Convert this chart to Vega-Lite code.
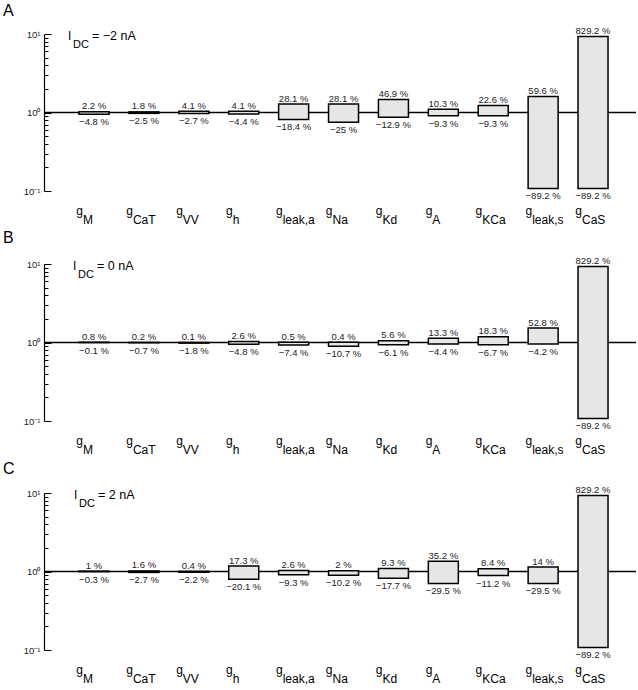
{
  "$schema": "https://vega.github.io/schema/vega-lite/v6.json",
  "background": "white",
  "padding": {"left": 3, "top": 3, "right": 0, "bottom": 0},
  "spacing": 4,
  "config": {
    "view": {"stroke": null},
    "font": "Liberation Sans",
    "title": {"font": "Liberation Sans", "fontSize": 16, "fontWeight": "normal", "color": "black", "anchor": "start", "frame": "group"},
    "axis": {"grid": false}
  },
  "datasets": {
    "g": [
      {"panel": "A", "sub": "M", "up": 2.2, "down": -4.8},
      {"panel": "A", "sub": "CaT", "up": 1.8, "down": -2.5},
      {"panel": "A", "sub": "VV", "up": 4.1, "down": -2.7},
      {"panel": "A", "sub": "h", "up": 4.1, "down": -4.4},
      {"panel": "A", "sub": "leak,a", "up": 28.1, "down": -18.4},
      {"panel": "A", "sub": "Na", "up": 28.1, "down": -25},
      {"panel": "A", "sub": "Kd", "up": 46.9, "down": -12.9},
      {"panel": "A", "sub": "A", "up": 10.3, "down": -9.3},
      {"panel": "A", "sub": "KCa", "up": 22.6, "down": -9.3},
      {"panel": "A", "sub": "leak,s", "up": 59.6, "down": -89.2},
      {"panel": "A", "sub": "CaS", "up": 829.2, "down": -89.2},
      {"panel": "B", "sub": "M", "up": 0.8, "down": -0.1},
      {"panel": "B", "sub": "CaT", "up": 0.2, "down": -0.7},
      {"panel": "B", "sub": "VV", "up": 0.1, "down": -1.8},
      {"panel": "B", "sub": "h", "up": 2.6, "down": -4.8},
      {"panel": "B", "sub": "leak,a", "up": 0.5, "down": -7.4},
      {"panel": "B", "sub": "Na", "up": 0.4, "down": -10.7},
      {"panel": "B", "sub": "Kd", "up": 5.6, "down": -6.1},
      {"panel": "B", "sub": "A", "up": 13.3, "down": -4.4},
      {"panel": "B", "sub": "KCa", "up": 18.3, "down": -6.7},
      {"panel": "B", "sub": "leak,s", "up": 52.8, "down": -4.2},
      {"panel": "B", "sub": "CaS", "up": 829.2, "down": -89.2},
      {"panel": "C", "sub": "M", "up": 1, "down": -0.3},
      {"panel": "C", "sub": "CaT", "up": 1.6, "down": -2.7},
      {"panel": "C", "sub": "VV", "up": 0.4, "down": -2.2},
      {"panel": "C", "sub": "h", "up": 17.3, "down": -20.1},
      {"panel": "C", "sub": "leak,a", "up": 2.6, "down": -9.3},
      {"panel": "C", "sub": "Na", "up": 2, "down": -10.2},
      {"panel": "C", "sub": "Kd", "up": 9.3, "down": -17.7},
      {"panel": "C", "sub": "A", "up": 35.2, "down": -29.5},
      {"panel": "C", "sub": "KCa", "up": 8.4, "down": -11.2},
      {"panel": "C", "sub": "leak,s", "up": 14, "down": -29.5},
      {"panel": "C", "sub": "CaS", "up": 829.2, "down": -89.2}
    ],
    "idc": [
      {"panel": "A", "val": "= −2 nA"},
      {"panel": "B", "val": "= 0 nA"},
      {"panel": "C", "val": "= 2 nA"}
    ]
  },
  "vconcat": [
    {
      "width": 592, "height": 157,
      "title": {"text": "A", "dx": -41, "offset": 7},
      "layer": [
        {"data": {"values": [{}]}, "mark": {"type": "rule", "color": "black", "strokeWidth": 1.3},
         "encoding": {"y": {"datum": 1, "type": "quantitative", "scale": {"type": "log", "domain": [0.1, 10]}}}},
        {"data": {"name": "g"},
         "transform": [{"filter": "datum.panel == 'A'"}, {"calculate": "1 + datum.up / 100", "as": "top"}, {"calculate": "1 + datum.down / 100", "as": "bot"}],
         "mark": {"type": "bar", "width": 30, "fill": "#e6e6e6", "stroke": "black", "strokeWidth": 1.5},
         "encoding": {
           "x": {"field": "sub", "type": "nominal", "scale": {"type": "point", "domain": ["M","CaT","VV","h","leak,a","Na","Kd","A","KCa","leak,s","CaS"], "padding": 0.932, "align": 0.538}, "axis": null},
           "y": {"field": "bot", "type": "quantitative", "scale": {"type": "log", "domain": [0.1, 10]},
                 "axis": {"title": null, "values": [0.1,0.2,0.3,0.4,0.5,0.6,0.7,0.8,0.9,1,2,3,4,5,6,7,8,9,10],
                          "labelExpr": "datum.value == 10 ? '10¹' : datum.value == 1 ? '10⁰' : datum.value == 0.1 ? '10⁻¹' : ''",
                          "tickSize": {"condition": {"test": "datum.value == 1 || datum.value == 10 || datum.value == 0.1", "value": -7}, "value": -4},
                          "labelPadding": 11, "tickColor": "black", "domainColor": "black", "domainWidth": 1.2, "tickWidth": 1,
                          "labelFontSize": 9.5, "labelColor": "#222", "labelFont": "Liberation Sans", "labelBaseline": "middle"}},
           "y2": {"field": "top"}
         }},
        {"data": {"name": "g"},
         "transform": [{"filter": "datum.panel == 'A'"}, {"calculate": "1 + datum.up / 100", "as": "top"}, {"calculate": "datum.up + ' %'", "as": "tl"}],
         "mark": {"type": "text", "fontSize": 9.5, "color": "#222", "baseline": "alphabetic", "dy": -2.5},
         "encoding": {"x": {"field": "sub", "type": "nominal"}, "y": {"field": "top", "type": "quantitative"}, "text": {"field": "tl"}}},
        {"data": {"name": "g"},
         "transform": [{"filter": "datum.panel == 'A'"}, {"calculate": "1 + datum.down / 100", "as": "bot"}, {"calculate": "'−' + abs(datum.down) + ' %'", "as": "bl"}],
         "mark": {"type": "text", "fontSize": 9.5, "color": "#222", "baseline": "top", "dy": 3},
         "encoding": {"x": {"field": "sub", "type": "nominal"}, "y": {"field": "bot", "type": "quantitative"}, "text": {"field": "bl"}}},
        {"data": {"name": "g"},
         "transform": [{"filter": "datum.panel == 'A'"}],
         "mark": {"type": "text", "fontSize": 12, "color": "black", "align": "right", "baseline": "alphabetic", "dx": -11, "dy": 24},
         "encoding": {"x": {"field": "sub", "type": "nominal"}, "y": {"datum": 0.1, "type": "quantitative"}, "text": {"value": "g"}}},
        {"data": {"name": "g"},
         "transform": [{"filter": "datum.panel == 'A'"}],
         "mark": {"type": "text", "fontSize": 12, "color": "black", "align": "left", "baseline": "alphabetic", "dx": -11, "dy": 33},
         "encoding": {"x": {"field": "sub", "type": "nominal"}, "y": {"datum": 0.1, "type": "quantitative"}, "text": {"field": "sub"}}},
        {"data": {"name": "idc"},
         "transform": [{"filter": "datum.panel == 'A'"}],
         "mark": {"type": "text", "fontSize": 12, "color": "black", "align": "left", "baseline": "alphabetic", "dx": -26, "dy": 6},
         "encoding": {"x": {"datum": "M"}, "y": {"datum": 10, "type": "quantitative"}, "text": {"value": "I"}}},
        {"data": {"name": "idc"},
         "transform": [{"filter": "datum.panel == 'A'"}],
         "mark": {"type": "text", "fontSize": 11, "color": "black", "align": "left", "baseline": "alphabetic", "dx": -21, "dy": 13.5},
         "encoding": {"x": {"datum": "M"}, "y": {"datum": 10, "type": "quantitative"}, "text": {"value": "DC"}}},
        {"data": {"name": "idc"},
         "transform": [{"filter": "datum.panel == 'A'"}],
         "mark": {"type": "text", "fontSize": 12.5, "color": "black", "align": "left", "baseline": "alphabetic", "dx": -2, "dy": 5.5},
         "encoding": {"x": {"datum": "M"}, "y": {"datum": 10, "type": "quantitative"}, "text": {"field": "val"}}}
      ]
    },
    {
      "width": 592, "height": 157,
      "title": {"text": "B", "dx": -41, "offset": 9.8},
      "layer": [
        {"data": {"values": [{}]}, "mark": {"type": "rule", "color": "black", "strokeWidth": 1.3},
         "encoding": {"y": {"datum": 1, "type": "quantitative", "scale": {"type": "log", "domain": [0.1, 10]}}}},
        {"data": {"name": "g"},
         "transform": [{"filter": "datum.panel == 'B'"}, {"calculate": "1 + datum.up / 100", "as": "top"}, {"calculate": "1 + datum.down / 100", "as": "bot"}],
         "mark": {"type": "bar", "width": 30, "fill": "#e6e6e6", "stroke": "black", "strokeWidth": 1.5},
         "encoding": {
           "x": {"field": "sub", "type": "nominal", "scale": {"type": "point", "domain": ["M","CaT","VV","h","leak,a","Na","Kd","A","KCa","leak,s","CaS"], "padding": 0.932, "align": 0.538}, "axis": null},
           "y": {"field": "bot", "type": "quantitative", "scale": {"type": "log", "domain": [0.1, 10]},
                 "axis": {"title": null, "values": [0.1,0.2,0.3,0.4,0.5,0.6,0.7,0.8,0.9,1,2,3,4,5,6,7,8,9,10],
                          "labelExpr": "datum.value == 10 ? '10¹' : datum.value == 1 ? '10⁰' : datum.value == 0.1 ? '10⁻¹' : ''",
                          "tickSize": {"condition": {"test": "datum.value == 1 || datum.value == 10 || datum.value == 0.1", "value": -7}, "value": -4},
                          "labelPadding": 11, "tickColor": "black", "domainColor": "black", "domainWidth": 1.2, "tickWidth": 1,
                          "labelFontSize": 9.5, "labelColor": "#222", "labelFont": "Liberation Sans", "labelBaseline": "middle"}},
           "y2": {"field": "top"}
         }},
        {"data": {"name": "g"},
         "transform": [{"filter": "datum.panel == 'B'"}, {"calculate": "1 + datum.up / 100", "as": "top"}, {"calculate": "datum.up + ' %'", "as": "tl"}],
         "mark": {"type": "text", "fontSize": 9.5, "color": "#222", "baseline": "alphabetic", "dy": -2.5},
         "encoding": {"x": {"field": "sub", "type": "nominal"}, "y": {"field": "top", "type": "quantitative"}, "text": {"field": "tl"}}},
        {"data": {"name": "g"},
         "transform": [{"filter": "datum.panel == 'B'"}, {"calculate": "1 + datum.down / 100", "as": "bot"}, {"calculate": "'−' + abs(datum.down) + ' %'", "as": "bl"}],
         "mark": {"type": "text", "fontSize": 9.5, "color": "#222", "baseline": "top", "dy": 3},
         "encoding": {"x": {"field": "sub", "type": "nominal"}, "y": {"field": "bot", "type": "quantitative"}, "text": {"field": "bl"}}},
        {"data": {"name": "g"},
         "transform": [{"filter": "datum.panel == 'B'"}],
         "mark": {"type": "text", "fontSize": 12, "color": "black", "align": "right", "baseline": "alphabetic", "dx": -11, "dy": 24},
         "encoding": {"x": {"field": "sub", "type": "nominal"}, "y": {"datum": 0.1, "type": "quantitative"}, "text": {"value": "g"}}},
        {"data": {"name": "g"},
         "transform": [{"filter": "datum.panel == 'B'"}],
         "mark": {"type": "text", "fontSize": 12, "color": "black", "align": "left", "baseline": "alphabetic", "dx": -11, "dy": 33},
         "encoding": {"x": {"field": "sub", "type": "nominal"}, "y": {"datum": 0.1, "type": "quantitative"}, "text": {"field": "sub"}}},
        {"data": {"name": "idc"},
         "transform": [{"filter": "datum.panel == 'B'"}],
         "mark": {"type": "text", "fontSize": 12, "color": "black", "align": "left", "baseline": "alphabetic", "dx": -21, "dy": 6},
         "encoding": {"x": {"datum": "M"}, "y": {"datum": 10, "type": "quantitative"}, "text": {"value": "I"}}},
        {"data": {"name": "idc"},
         "transform": [{"filter": "datum.panel == 'B'"}],
         "mark": {"type": "text", "fontSize": 11, "color": "black", "align": "left", "baseline": "alphabetic", "dx": -16, "dy": 13.5},
         "encoding": {"x": {"datum": "M"}, "y": {"datum": 10, "type": "quantitative"}, "text": {"value": "DC"}}},
        {"data": {"name": "idc"},
         "transform": [{"filter": "datum.panel == 'B'"}],
         "mark": {"type": "text", "fontSize": 12.5, "color": "black", "align": "left", "baseline": "alphabetic", "dx": 3, "dy": 5.5},
         "encoding": {"x": {"datum": "M"}, "y": {"datum": 10, "type": "quantitative"}, "text": {"field": "val"}}}
      ]
    },
    {
      "width": 592, "height": 157,
      "title": {"text": "C", "dx": -41, "offset": 8.4},
      "layer": [
        {"data": {"values": [{}]}, "mark": {"type": "rule", "color": "black", "strokeWidth": 1.3},
         "encoding": {"y": {"datum": 1, "type": "quantitative", "scale": {"type": "log", "domain": [0.1, 10]}}}},
        {"data": {"name": "g"},
         "transform": [{"filter": "datum.panel == 'C'"}, {"calculate": "1 + datum.up / 100", "as": "top"}, {"calculate": "1 + datum.down / 100", "as": "bot"}],
         "mark": {"type": "bar", "width": 30, "fill": "#e6e6e6", "stroke": "black", "strokeWidth": 1.5},
         "encoding": {
           "x": {"field": "sub", "type": "nominal", "scale": {"type": "point", "domain": ["M","CaT","VV","h","leak,a","Na","Kd","A","KCa","leak,s","CaS"], "padding": 0.932, "align": 0.538}, "axis": null},
           "y": {"field": "bot", "type": "quantitative", "scale": {"type": "log", "domain": [0.1, 10]},
                 "axis": {"title": null, "values": [0.1,0.2,0.3,0.4,0.5,0.6,0.7,0.8,0.9,1,2,3,4,5,6,7,8,9,10],
                          "labelExpr": "datum.value == 10 ? '10¹' : datum.value == 1 ? '10⁰' : datum.value == 0.1 ? '10⁻¹' : ''",
                          "tickSize": {"condition": {"test": "datum.value == 1 || datum.value == 10 || datum.value == 0.1", "value": -7}, "value": -4},
                          "labelPadding": 11, "tickColor": "black", "domainColor": "black", "domainWidth": 1.2, "tickWidth": 1,
                          "labelFontSize": 9.5, "labelColor": "#222", "labelFont": "Liberation Sans", "labelBaseline": "middle"}},
           "y2": {"field": "top"}
         }},
        {"data": {"name": "g"},
         "transform": [{"filter": "datum.panel == 'C'"}, {"calculate": "1 + datum.up / 100", "as": "top"}, {"calculate": "datum.up + ' %'", "as": "tl"}],
         "mark": {"type": "text", "fontSize": 9.5, "color": "#222", "baseline": "alphabetic", "dy": -2.5},
         "encoding": {"x": {"field": "sub", "type": "nominal"}, "y": {"field": "top", "type": "quantitative"}, "text": {"field": "tl"}}},
        {"data": {"name": "g"},
         "transform": [{"filter": "datum.panel == 'C'"}, {"calculate": "1 + datum.down / 100", "as": "bot"}, {"calculate": "'−' + abs(datum.down) + ' %'", "as": "bl"}],
         "mark": {"type": "text", "fontSize": 9.5, "color": "#222", "baseline": "top", "dy": 3},
         "encoding": {"x": {"field": "sub", "type": "nominal"}, "y": {"field": "bot", "type": "quantitative"}, "text": {"field": "bl"}}},
        {"data": {"name": "g"},
         "transform": [{"filter": "datum.panel == 'C'"}],
         "mark": {"type": "text", "fontSize": 12, "color": "black", "align": "right", "baseline": "alphabetic", "dx": -11, "dy": 24},
         "encoding": {"x": {"field": "sub", "type": "nominal"}, "y": {"datum": 0.1, "type": "quantitative"}, "text": {"value": "g"}}},
        {"data": {"name": "g"},
         "transform": [{"filter": "datum.panel == 'C'"}],
         "mark": {"type": "text", "fontSize": 12, "color": "black", "align": "left", "baseline": "alphabetic", "dx": -11, "dy": 33},
         "encoding": {"x": {"field": "sub", "type": "nominal"}, "y": {"datum": 0.1, "type": "quantitative"}, "text": {"field": "sub"}}},
        {"data": {"name": "idc"},
         "transform": [{"filter": "datum.panel == 'C'"}],
         "mark": {"type": "text", "fontSize": 12, "color": "black", "align": "left", "baseline": "alphabetic", "dx": -20, "dy": 6},
         "encoding": {"x": {"datum": "M"}, "y": {"datum": 10, "type": "quantitative"}, "text": {"value": "I"}}},
        {"data": {"name": "idc"},
         "transform": [{"filter": "datum.panel == 'C'"}],
         "mark": {"type": "text", "fontSize": 11, "color": "black", "align": "left", "baseline": "alphabetic", "dx": -15, "dy": 13.5},
         "encoding": {"x": {"datum": "M"}, "y": {"datum": 10, "type": "quantitative"}, "text": {"value": "DC"}}},
        {"data": {"name": "idc"},
         "transform": [{"filter": "datum.panel == 'C'"}],
         "mark": {"type": "text", "fontSize": 12.5, "color": "black", "align": "left", "baseline": "alphabetic", "dx": 4, "dy": 5.5},
         "encoding": {"x": {"datum": "M"}, "y": {"datum": 10, "type": "quantitative"}, "text": {"field": "val"}}}
      ]
    }
  ]
}
